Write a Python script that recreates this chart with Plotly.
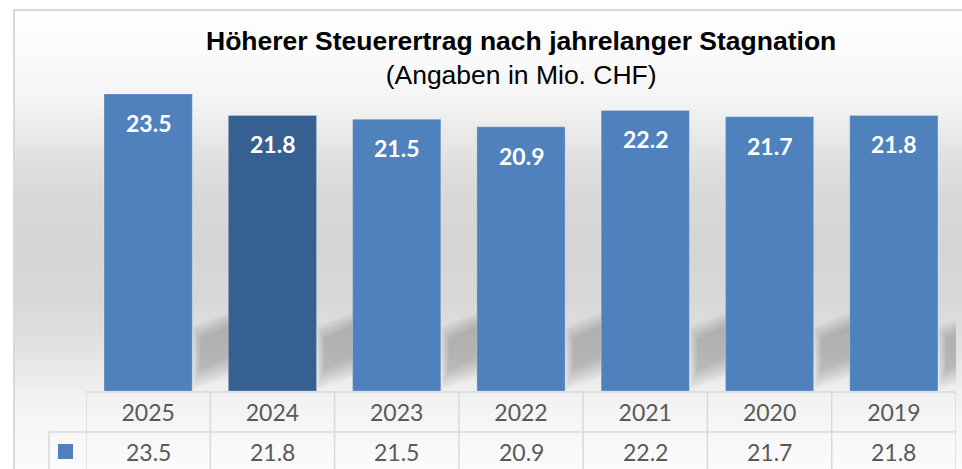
import plotly.graph_objects as go

# data
years = ["2025", "2024", "2023", "2022", "2021", "2020", "2019"]
values = [23.5, 21.8, 21.5, 20.9, 22.2, 21.7, 21.8]
highlight_year = "2024"

TITLE = "Höherer Steuerertrag nach jahrelanger Stagnation"
SUBTITLE = "(Angaben in Mio. CHF)"

W, H = 962, 469
L, R, T, B = 86, 6, 75, 78

BLUE = "#4F81BD"
DARK_BLUE = "#376092"
LINE_GRAY = "#D9D9D9"
TEXT_GRAY = "#595959"
NUM_FONT = "Lato, Carlito, Calibri, sans-serif"
TITLE_FONT = "Liberation Sans, Arial, sans-serif"


def px_x(px):
    return (px - L) / (W - L - R)


def px_y(py):
    return (H - B - py) / (H - T - B)


pos = list(range(len(years)))
bar_colors = [DARK_BLUE if y == highlight_year else BLUE for y in years]

fig = go.Figure()
fig.add_trace(
    go.Bar(
        x=pos,
        y=values,
        width=0.71,
        marker=dict(color=bar_colors, line=dict(color="rgba(255,255,255,0.25)", width=1)),
        hoverinfo="x+y",
        showlegend=False,
    )
)

shapes = []

# background gradient (light -> grey -> light), drawn as thin bands
stops = [(10, 254), (60, 250), (100, 244), (133, 233), (167, 222), (200, 216),
         (250, 213), (300, 216), (333, 222), (367, 232), (400, 242), (430, 247),
         (469, 251)]
step = 3
py = 10
while py < H:
    mid = py + step / 2
    for (a, ga), (b, gb) in zip(stops, stops[1:]):
        if a <= mid <= b:
            g = ga + (gb - ga) * (mid - a) / (b - a)
            break
    else:
        g = stops[-1][1]
    g = int(round(g))
    shapes.append(dict(
        type="rect", xref="paper", yref="paper", layer="below",
        x0=px_x(14), x1=px_x(W + 2), y0=px_y(py), y1=px_y(py + step + 0.6),
        fillcolor=f"rgb({g},{g},{g})", line=dict(width=0),
    ))
    py += step

# chart border (top + left)
shapes.append(dict(type="line", xref="paper", yref="paper", layer="below",
                   x0=px_x(14), x1=px_x(14), y0=px_y(H + 2), y1=px_y(10),
                   line=dict(color=LINE_GRAY, width=2)))
shapes.append(dict(type="line", xref="paper", yref="paper", layer="below",
                   x0=px_x(13), x1=px_x(W + 2), y0=px_y(10), y1=px_y(10),
                   line=dict(color=LINE_GRAY, width=2)))

# soft diagonal shadows behind the bars (stacked translucent layers = blur)
for i in pos:
    xr = i + 0.355
    for k in range(9):
        d = k * 0.2
        dx = k * 0.008
        path = (f"M {xr + dx},{0.1 + d} L {xr + dx},{5.1 - d * 0.6} "
                f"L {xr + 0.55},{7.2 - d * 0.6} L {xr + 0.55},{2.0 + d} Z")
        shapes.append(dict(type="path", xref="x", yref="y", layer="below",
                           path=path, fillcolor="rgba(0,0,0,0.022)",
                           line=dict(width=0)))

# data table grid
shapes.append(dict(type="line", xref="paper", yref="paper",
                   x0=0, x1=1, y0=px_y(392), y1=px_y(392),
                   line=dict(color=LINE_GRAY, width=1.5)))
shapes.append(dict(type="line", xref="paper", yref="paper",
                   x0=px_x(49), x1=1, y0=px_y(432), y1=px_y(432),
                   line=dict(color=LINE_GRAY, width=1.5)))
shapes.append(dict(type="line", xref="paper", yref="paper",
                   x0=px_x(49), x1=px_x(49), y0=px_y(432), y1=px_y(H + 2),
                   line=dict(color=LINE_GRAY, width=1.5)))
for i in range(len(years) + 1):
    shapes.append(dict(type="line", xref="x", yref="paper",
                       x0=i - 0.5, x1=i - 0.5, y0=px_y(392), y1=px_y(H + 2),
                       line=dict(color=LINE_GRAY, width=1.5)))

# legend key in the table row header
shapes.append(dict(type="rect", xref="paper", yref="paper",
                   x0=px_x(58), x1=px_x(73), y0=px_y(444), y1=px_y(459),
                   fillcolor=BLUE, line=dict(width=0)))

annotations = []
for i, v in zip(pos, values):
    annotations.append(dict(
        x=i, y=v, xref="x", yref="y", text=f"<b>{v:.1f}</b>", showarrow=False,
        yanchor="middle", yshift=-29,
        font=dict(family=NUM_FONT, size=23, color="white"),
    ))
    annotations.append(dict(
        x=i, y=0, xref="x", yref="paper", text=f"{v:.1f}", showarrow=False,
        yanchor="middle", yshift=-61,
        font=dict(family=NUM_FONT, size=23, color=TEXT_GRAY),
    ))

annotations.append(dict(
    x=0.5, y=px_y(58.5), xref="paper", yref="paper", showarrow=False,
    yanchor="middle", xanchor="center",
    text=f"<b>{TITLE}</b><br>{SUBTITLE}",
    font=dict(family=TITLE_FONT, size=26.5, color="black"),
))

fig.update_layout(
    width=W,
    height=H,
    margin=dict(l=L, r=R, t=T, b=B),
    paper_bgcolor="white",
    plot_bgcolor="rgba(0,0,0,0)",
    shapes=shapes,
    annotations=annotations,
    xaxis=dict(
        range=[-0.5, len(years) - 0.5],
        tickvals=pos,
        ticktext=years,
        tickfont=dict(family=NUM_FONT, size=23, color=TEXT_GRAY),
        showgrid=False,
        zeroline=False,
        showline=False,
        ticks="",
        ticklabelstandoff=6,
        fixedrange=True,
    ),
    yaxis=dict(
        range=[0, 25],
        visible=False,
        showgrid=False,
        zeroline=False,
        fixedrange=True,
    ),
)

fig.write_html(
    "out.html",
    config=dict(displayModeBar=False),
    post_script="document.body.style.margin='0';document.body.style.overflow='hidden';",
)
